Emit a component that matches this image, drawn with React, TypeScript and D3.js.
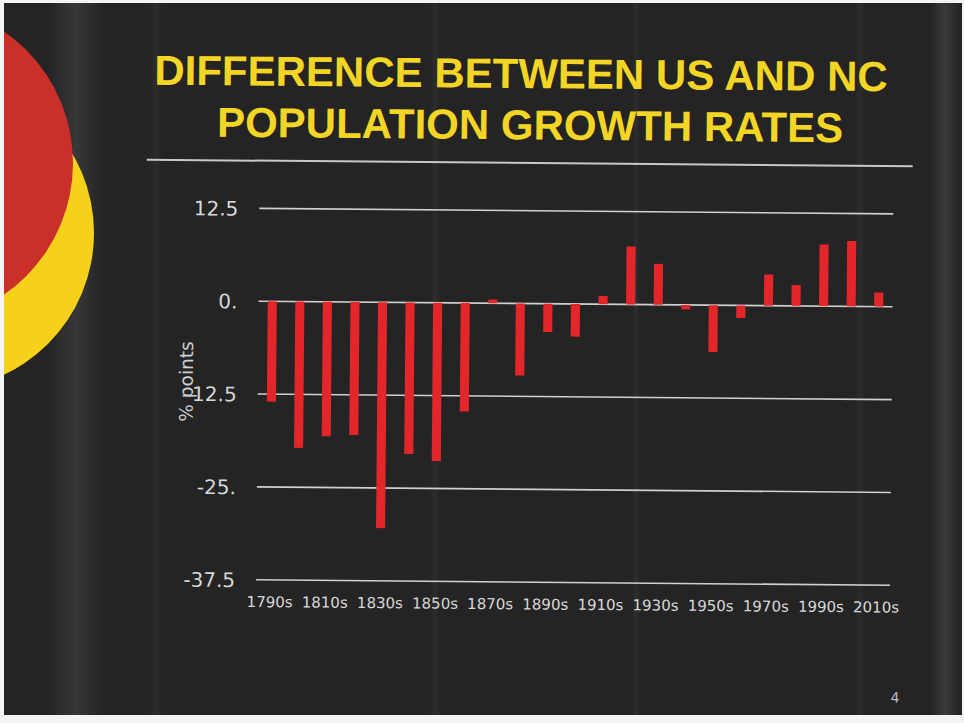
import React from "react";
import * as d3 from "d3";

const decades = [
  "1790s", "1800s", "1810s", "1820s", "1830s", "1840s", "1850s", "1860s",
  "1870s", "1880s", "1890s", "1900s", "1910s", "1920s", "1930s", "1940s",
  "1950s", "1960s", "1970s", "1980s", "1990s", "2000s", "2010s",
];
const diffValues = [
  -13.5, -19.7, -18.1, -17.9, -30.4, -20.4, -21.3, -14.6,
  0.5, -9.7, -3.8, -4.4, 1.1, 7.8, 5.5, -0.6,
  -6.3, -1.7, 4.2, 2.8, 8.3, 8.8, 1.9,
];
const yTickValues = [12.5, 0, -12.5, -25, -37.5];
const yTickLabels = ["12.5", "0.", "-12.5", "-25.", "-37.5"];
const titleLines = ["DIFFERENCE BETWEEN US AND NC", "POPULATION GROWTH RATES"];
const yAxisTitle = "% points";
const pageNumber = "4";

const W = 964;
const H = 723;

export default function App() {
  const x = d3.scaleBand<string>().domain(decades).range([258, 892]).padding(0);
  const y = d3.scaleLinear().domain([-37.5, 12.5]).range([581.7, 210.3]);
  const barW = x.bandwidth() * 0.33;
  const axisFont = "'DejaVu Sans', Verdana, sans-serif";

  const streaks = [
    { x: 48, w: 55, o: 0.09 },
    { x: 150, w: 12, o: 0.04 },
    { x: 430, w: 10, o: 0.04 },
    { x: 632, w: 8, o: 0.05 },
    { x: 855, w: 10, o: 0.04 },
    { x: 930, w: 30, o: 0.1 },
  ];

  return (
    <svg
      width={W}
      height={H}
      viewBox={`0 0 ${W} ${H}`}
      style={{ position: "absolute", left: 0, top: 0, display: "block" }}
    >
      <defs>
        <clipPath id="slideClip">
          <rect x={4} y={3} width={958} height={712} />
        </clipPath>
        <linearGradient id="streakGrad" x1="0" x2="1" y1="0" y2="0">
          <stop offset="0%" stopColor="#fff" stopOpacity={0} />
          <stop offset="50%" stopColor="#fff" stopOpacity={1} />
          <stop offset="100%" stopColor="#fff" stopOpacity={0} />
        </linearGradient>
      </defs>
      <rect x={0} y={0} width={W} height={H} fill="#f4f4f4" />
      <g clipPath="url(#slideClip)">
        <rect x={4} y={3} width={958} height={712} fill="#242424" />
        {streaks.map((s, i) => (
          <rect
            key={i}
            x={s.x}
            y={3}
            width={s.w}
            height={712}
            fill="url(#streakGrad)"
            opacity={s.o}
          />
        ))}
        <circle cx={-62.6} cy={233} r={156.6} fill="#f6d11c" />
        <circle cx={-87} cy={163} r={160} fill="#c9302a" />
      </g>

      <g transform="rotate(0.5, 480, 360)">
        {/* Title */}
        <text
          x={518.5}
          y={87.6}
          textAnchor="middle"
          fontFamily="'Liberation Sans', Arial, sans-serif"
          fontWeight="bold"
          fontSize={42}
          fill="#f3d526"
        >
          {titleLines[0]}
        </text>
        <text
          x={528}
          y={139}
          textAnchor="middle"
          fontFamily="'Liberation Sans', Arial, sans-serif"
          fontWeight="bold"
          fontSize={42}
          fill="#f3d526"
        >
          {titleLines[1]}
        </text>
        <line x1={145} x2={911} y1={162.6} y2={162.6} stroke="#c8c8c8" strokeWidth={2} />

        {/* Gridlines */}
        {yTickValues.map((v) => (
          <line
            key={"g" + v}
            x1={258}
            x2={892}
            y1={y(v)}
            y2={y(v)}
            stroke="#d0d0d0"
            strokeWidth={1.6}
          />
        ))}

        {/* Bars */}
        {decades.map((d, i) => {
          const v = diffValues[i];
          const cx = (x(d) as number) + x.bandwidth() / 2;
          const y0 = y(0);
          const y1 = y(v);
          return (
            <rect
              key={d}
              x={cx - barW / 2}
              y={Math.min(y0, y1)}
              width={barW}
              height={Math.abs(y1 - y0)}
              fill="#e3262a"
            />
          );
        })}

        {/* Y tick labels */}
        {yTickValues.map((v, i) => (
          <text
            key={"t" + v}
            x={237}
            y={y(v) + 7.5}
            textAnchor="end"
            fontFamily={axisFont}
            fontSize={20}
            fill="#d8d8d8"
          >
            {yTickLabels[i]}
          </text>
        ))}

        {/* X labels, every other decade */}
        {decades.map((d, i) =>
          i % 2 === 0 ? (
            <text
              key={"x" + d}
              x={(x(d) as number) + x.bandwidth() / 2}
              y={609}
              textAnchor="middle"
              fontFamily={axisFont}
              fontSize={15}
              fill="#d8d8d8"
            >
              {d}
            </text>
          ) : null
        )}

        {/* Y axis title */}
        <text
          transform="translate(193, 384) rotate(-90)"
          textAnchor="middle"
          fontFamily={axisFont}
          fontSize={18.5}
          fill="#cfcfcf"
        >
          {yAxisTitle}
        </text>

        <text
          x={898}
          y={699}
          textAnchor="middle"
          fontFamily={axisFont}
          fontSize={14}
          fill="#bbbbbb"
        >
          {pageNumber}
        </text>
      </g>
    </svg>
  );
}
